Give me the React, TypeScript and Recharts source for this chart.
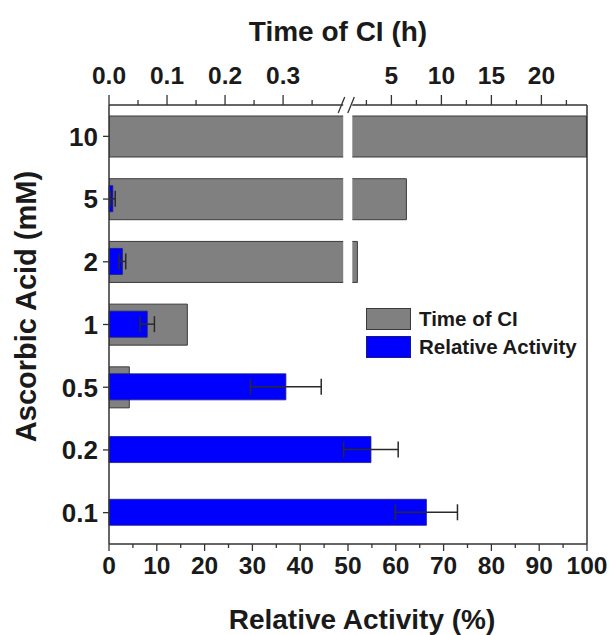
import React from 'react';
import { BarChart, Bar, XAxis, YAxis, ErrorBar, ReferenceArea, ReferenceLine, Legend } from 'recharts';

// ---- data (top to bottom) ----
const concentrations = ['10', '5', '2', '1', '0.5', '0.2', '0.1'];
const relativeActivity = [0, 0.8, 2.8, 8, 37, 54.8, 66.4];
const relativeActivityErr = [0, 0.5, 0.7, 1.5, 7.4, 5.7, 6.5];
const timeOfCI = [24.5, 6.5, 1.6, 0.135, 0.035, 0, 0]; // hours

// ---- series names / legend order ----
const seriesNames = ['Time of CI', 'Relative Activity'];

// ---- ticks ----
const bottomTicks = [0, 5, 10, 15, 20, 25, 30, 35, 40, 45, 50, 55, 60, 65, 70, 75, 80, 85, 90, 95, 100];
const topLeftMajor = [0, 0.1, 0.2, 0.3];
const topLeftMajorLabels = ['0.0', '0.1', '0.2', '0.3'];
const topLeftMinor = [0.05, 0.15, 0.25, 0.35];
const topRightMajor = [5, 10, 15, 20];
const topRightMajorLabels = ['5', '10', '15', '20'];
const topRightMinor = [2.5, 7.5, 12.5, 17.5, 22.5];

// ---- broken time axis mapping (hours -> 0..100 plot units) ----
const BREAK_H = 0.405;
const LEFT_SLOPE = 121.4;
const RIGHT_OFFSET = 48.62;
const RIGHT_SLOPE = 2.092;
const GAP_START = 49.0;
const GAP_END = 50.9;
const toTimeUnits = (t: number) => (t <= BREAK_H ? t * LEFT_SLOPE : RIGHT_OFFSET + RIGHT_SLOPE * t);

const data = concentrations.map((c, i) => ({
  conc: c,
  activity: relativeActivity[i],
  err: relativeActivityErr[i],
  time: timeOfCI[i],
  timeUnits: toTimeUnits(timeOfCI[i]),
}));

type TickSpec = { u: number; label: string; major: boolean };
const topTickSpecs: TickSpec[] = [
  ...topLeftMajor.map((t, i) => ({ u: toTimeUnits(t), label: topLeftMajorLabels[i], major: true })),
  ...topLeftMinor.map((t) => ({ u: toTimeUnits(t), label: '', major: false })),
  ...topRightMajor.map((t, i) => ({ u: toTimeUnits(t), label: topRightMajorLabels[i], major: true })),
  ...topRightMinor.map((t) => ({ u: toTimeUnits(t), label: '', major: false })),
].sort((a, b) => a.u - b.u);

const FONT = '"Liberation Sans", Arial, Helvetica, sans-serif';
const INK = '#1a1a1a';
const AXIS = '#333';

const findTop = (v: number) => topTickSpecs.find((s) => Math.abs(s.u - v) < 1e-6);

const TopTick = (props: any) => {
  const { x, y, payload } = props;
  const spec = findTop(payload.value);
  if (!spec) return null;
  return (
    <g>
      <line x1={x} y1={y} x2={x} y2={y - (spec.major ? 10 : 5)} stroke={AXIS} strokeWidth={1.3} />
      {spec.major && (
        <text x={x} y={y - 21} textAnchor="middle" fontFamily={FONT} fontWeight="bold" fontSize={24.5} fill={INK}>
          {spec.label}
        </text>
      )}
    </g>
  );
};

const BottomTick = (props: any) => {
  const { x, y, payload } = props;
  const v = payload.value as number;
  const major = v % 10 === 0;
  return (
    <g>
      <line x1={x} y1={y} x2={x} y2={y + (major ? 7 : 4)} stroke={AXIS} strokeWidth={1.3} />
      {major && (
        <text x={x} y={y + 30} textAnchor="middle" fontFamily={FONT} fontWeight="bold" fontSize={24.5} fill={INK}>
          {String(v)}
        </text>
      )}
    </g>
  );
};

const LeftTick = (props: any) => {
  const { x, y, payload } = props;
  return (
    <g>
      <line x1={x} y1={y} x2={x - 6} y2={y} stroke={AXIS} strokeWidth={1.3} />
      <text x={x - 11} y={y} dy="0.36em" textAnchor="end" fontFamily={FONT} fontWeight="bold" fontSize={26} fill={INK}>
        {payload.value}
      </text>
    </g>
  );
};

const BreakShape = (props: any) => {
  const { x, y, width, height } = props;
  const h = height * 0.45;
  return (
    <g>
      <rect x={x} y={y - 3} width={width} height={h + 3} fill="#fff" stroke="none" />
      <line x1={x - 5} y1={y + 8} x2={x + 1.5} y2={y - 8} stroke={AXIS} strokeWidth={1.3} />
      <line x1={x + width - 4.5} y1={y + 8} x2={x + width + 2} y2={y - 8} stroke={AXIS} strokeWidth={1.3} />
    </g>
  );
};

const LegendContent = (props: any) => {
  const payload = ([...(props.payload || [])] as any[]).sort(
    (a, b) => seriesNames.indexOf(a.value) - seriesNames.indexOf(b.value)
  );
  return (
    <div style={{ fontFamily: FONT, fontWeight: 'bold', fontSize: 20.5, color: INK }}>
      {payload.map((p, i) => (
        <div key={i} style={{ display: 'flex', alignItems: 'center', height: 22, marginBottom: 5.5 }}>
          <div
            style={{
              width: 43,
              height: 20,
              background: p.color,
              border: `1px solid ${p.value === seriesNames[0] ? '#3a3a3a' : '#1a1a80'}`,
              marginRight: 8,
            }}
          />
          <span style={{ lineHeight: '22px' }}>{p.value}</span>
        </div>
      ))}
    </div>
  );
};

export default function App() {
  return (
    <div style={{ position: 'absolute', left: 0, top: 0, width: 610, height: 635, background: '#fff' }}>
      <BarChart
        width={610}
        height={635}
        data={data}
        layout="vertical"
        margin={{ top: 0, right: 23, bottom: 0, left: 0 }}
        barGap={0}
      >
        <XAxis
          xAxisId="top"
          orientation="top"
          type="number"
          domain={[0, 100]}
          ticks={topTickSpecs.map((s) => s.u)}
          interval={0}
          tickSize={0}
          tickMargin={0}
          tickLine={false}
          tick={<TopTick />}
          axisLine={{ stroke: AXIS, strokeWidth: 1.5 }}
          height={105}
          allowDataOverflow
          label={{
            content: (p: any) => {
              const vb = p.viewBox || { x: 109, y: 0, width: 478, height: 105 };
              return (
                <text x={vb.x + vb.width / 2 - 10} y={41} textAnchor="middle" fontFamily={FONT} fontWeight="bold" fontSize={28} fill={INK}>
                  Time of CI (h)
                </text>
              );
            },
          }}
        />
        <XAxis
          xAxisId="bottom"
          orientation="bottom"
          type="number"
          domain={[0, 100]}
          ticks={bottomTicks}
          interval={0}
          tickSize={0}
          tickMargin={0}
          tickLine={false}
          tick={<BottomTick />}
          axisLine={{ stroke: AXIS, strokeWidth: 1.5 }}
          height={91}
          label={{
            content: (p: any) => {
              const vb = p.viewBox || { x: 109, y: 544, width: 478, height: 91 };
              return (
                <text x={vb.x + vb.width / 2 + 14} y={vb.y + 85} textAnchor="middle" fontFamily={FONT} fontWeight="bold" fontSize={28} fill={INK}>
                  Relative Activity (%)
                </text>
              );
            },
          }}
        />
        <YAxis
          yAxisId="y1"
          type="category"
          dataKey="conc"
          width={109}
          tickSize={0}
          tickMargin={0}
          tickLine={false}
          tick={<LeftTick />}
          interval={0}
          axisLine={{ stroke: AXIS, strokeWidth: 1.5 }}
          label={{
            content: (p: any) => {
              const vb = p.viewBox || { x: 0, y: 105, width: 109, height: 439 };
              const cy = vb.y + vb.height / 2 - 18;
              return (
                <text x={36} y={cy} transform={`rotate(-90, 36, ${cy})`} textAnchor="middle" fontFamily={FONT} fontWeight="bold" fontSize={29} fill={INK}>
                  Ascorbic Acid (mM)
                </text>
              );
            },
          }}
        />
        <YAxis yAxisId="y2" type="category" dataKey="conc" hide />
        <Legend
          layout="vertical"
          align="center"
          verticalAlign="middle"
          itemSorter={null as any}
          content={<LegendContent />}
          wrapperStyle={{ position: 'absolute', left: 366, top: 308, width: 220, height: 60 }}
        />
        <Bar
          name={seriesNames[0]}
          dataKey="timeUnits"
          xAxisId="top"
          yAxisId="y2"
          barSize={41}
          fill="#808080"
          stroke="#3a3a3a"
          strokeWidth={1}
          isAnimationActive={false}
        />
        <Bar
          name={seriesNames[1]}
          dataKey="activity"
          xAxisId="bottom"
          yAxisId="y1"
          barSize={26}
          fill="#0000ff"
          stroke="#1a1a80"
          strokeWidth={0.8}
          isAnimationActive={false}
        >
          <ErrorBar dataKey="err" direction="x" width={8} stroke="#2a2a2a" strokeWidth={1.5} />
        </Bar>
        <ReferenceLine x={100} xAxisId="bottom" yAxisId="y1" stroke={AXIS} strokeWidth={1.5} />
        <ReferenceArea
          xAxisId="bottom"
          yAxisId="y1"
          x1={GAP_START}
          x2={GAP_END}
          ifOverflow="visible"
          shape={<BreakShape />}
          {...({ zIndex: 2000 } as any)}
        />
      </BarChart>
    </div>
  );
}
